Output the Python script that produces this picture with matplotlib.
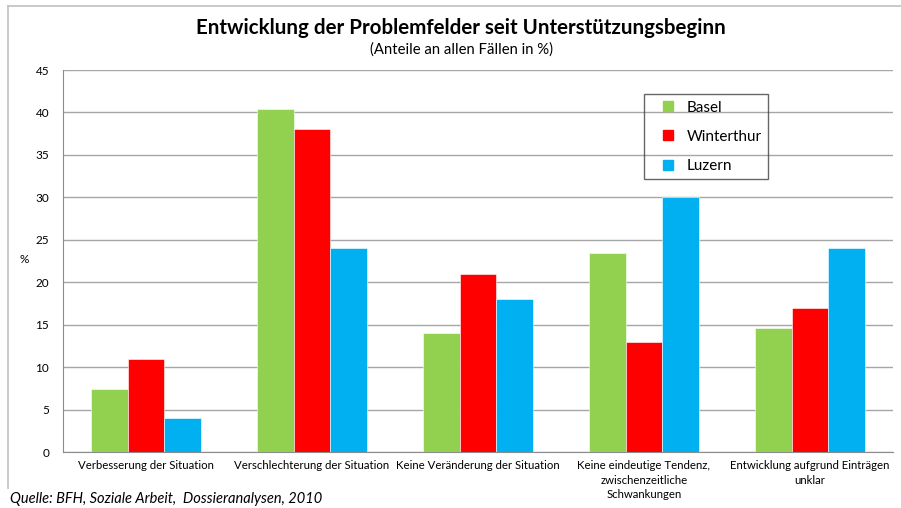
# Balkendiagramm: Entwicklung der Problemfelder

import numpy as np
import matplotlib.pyplot as plt
from matplotlib.lines import Line2D

plt.rcParams['font.family'] = ['Lato', 'DejaVu Sans']

# Daten (Anteile in %)
kategorien = ['Verbesserung der Situation',
              'Verschlechterung der Situation',
              'Keine Veränderung der Situation',
              'Keine eindeutige Tendenz,\nzwischenzeitliche\nSchwankungen',
              'Entwicklung aufgrund Einträgen\nunklar']
basel = [7.4, 40.4, 14.0, 23.5, 14.6]
winterthur = [11.0, 38.0, 21.0, 13.0, 17.0]
luzern = [4.0, 24.0, 18.0, 30.0, 24.0]

staedte = ['Basel', 'Winterthur', 'Luzern']
farben = ['#92D050', '#FF0000', '#00B0F0']

fig = plt.figure(figsize=(9.01, 5.08), dpi=100)
ax = fig.add_axes([0.0699, 0.1102, 0.9211, 0.752])

x = np.arange(len(kategorien))
b = 0.22
for i, (werte, name, c) in enumerate(zip([basel, winterthur, luzern], staedte, farben)):
    ax.bar(x + (i - 1) * b, werte, b, color=c, label=name, zorder=3,
           edgecolor='white', linewidth=0.4)

ax.set_xlim(-0.5, len(kategorien) - 0.5)
ax.set_ylim(0, 45)
ax.set_yticks(range(0, 46, 5))
ax.yaxis.grid(True, color='#a6a6a6', linewidth=1, zorder=0)
ax.set_axisbelow(True)
ax.set_xticks(x)
ax.set_xticklabels(kategorien, fontsize=8.2, linespacing=1.35)
ax.tick_params(axis='x', length=0, pad=6)
ax.tick_params(axis='y', length=0, labelsize=8.5, pad=10)
for s in ['top', 'right']:
    ax.spines[s].set_visible(False)
ax.spines['left'].set_color('#8c8c8c')
ax.spines['bottom'].set_color('#8c8c8c')

ax.set_ylabel('%', rotation=0, fontsize=8.5)
ax.yaxis.set_label_coords(-0.047, 0.49)

# Legende
handles = [Line2D([], [], marker='s', linestyle='none', markersize=7,
                  markerfacecolor=c, markeredgecolor=c) for c in farben]
leg = ax.legend(handles, staedte, loc='upper left', bbox_to_anchor=(0.7, 0.936),
                frameon=True, fancybox=False, fontsize=11, labelspacing=1.0,
                handletextpad=0.0, borderpad=0.4, handlelength=2.4,
                borderaxespad=0)
leg.get_frame().set_edgecolor('#404040')
leg.get_frame().set_facecolor('none')
leg.get_frame().set_linewidth(1)

# Titel
fig.text(0.512, 0.945, 'Entwicklung der Problemfelder seit Unterstützungsbeginn',
         ha='center', va='center', fontsize=14.8, fontweight='bold')
fig.text(0.512, 0.903, '(Anteile an allen Fällen in %)',
         ha='center', va='center', fontsize=10.7)

# Quelle
fig.text(0.011, 0.017, 'Quelle: BFH, Soziale Arbeit,  Dossieranalysen, 2010',
         ha='left', va='center', fontsize=10.5, style='italic')

# Rahmen oben/links
fig.add_artist(Line2D([0.009, 1.0], [0.988, 0.988], color='#c0c0c0', linewidth=1.2))
fig.add_artist(Line2D([0.009, 0.009], [0.04, 0.988], color='#c0c0c0', linewidth=1.2))

fig.savefig('out.png', dpi=100)
